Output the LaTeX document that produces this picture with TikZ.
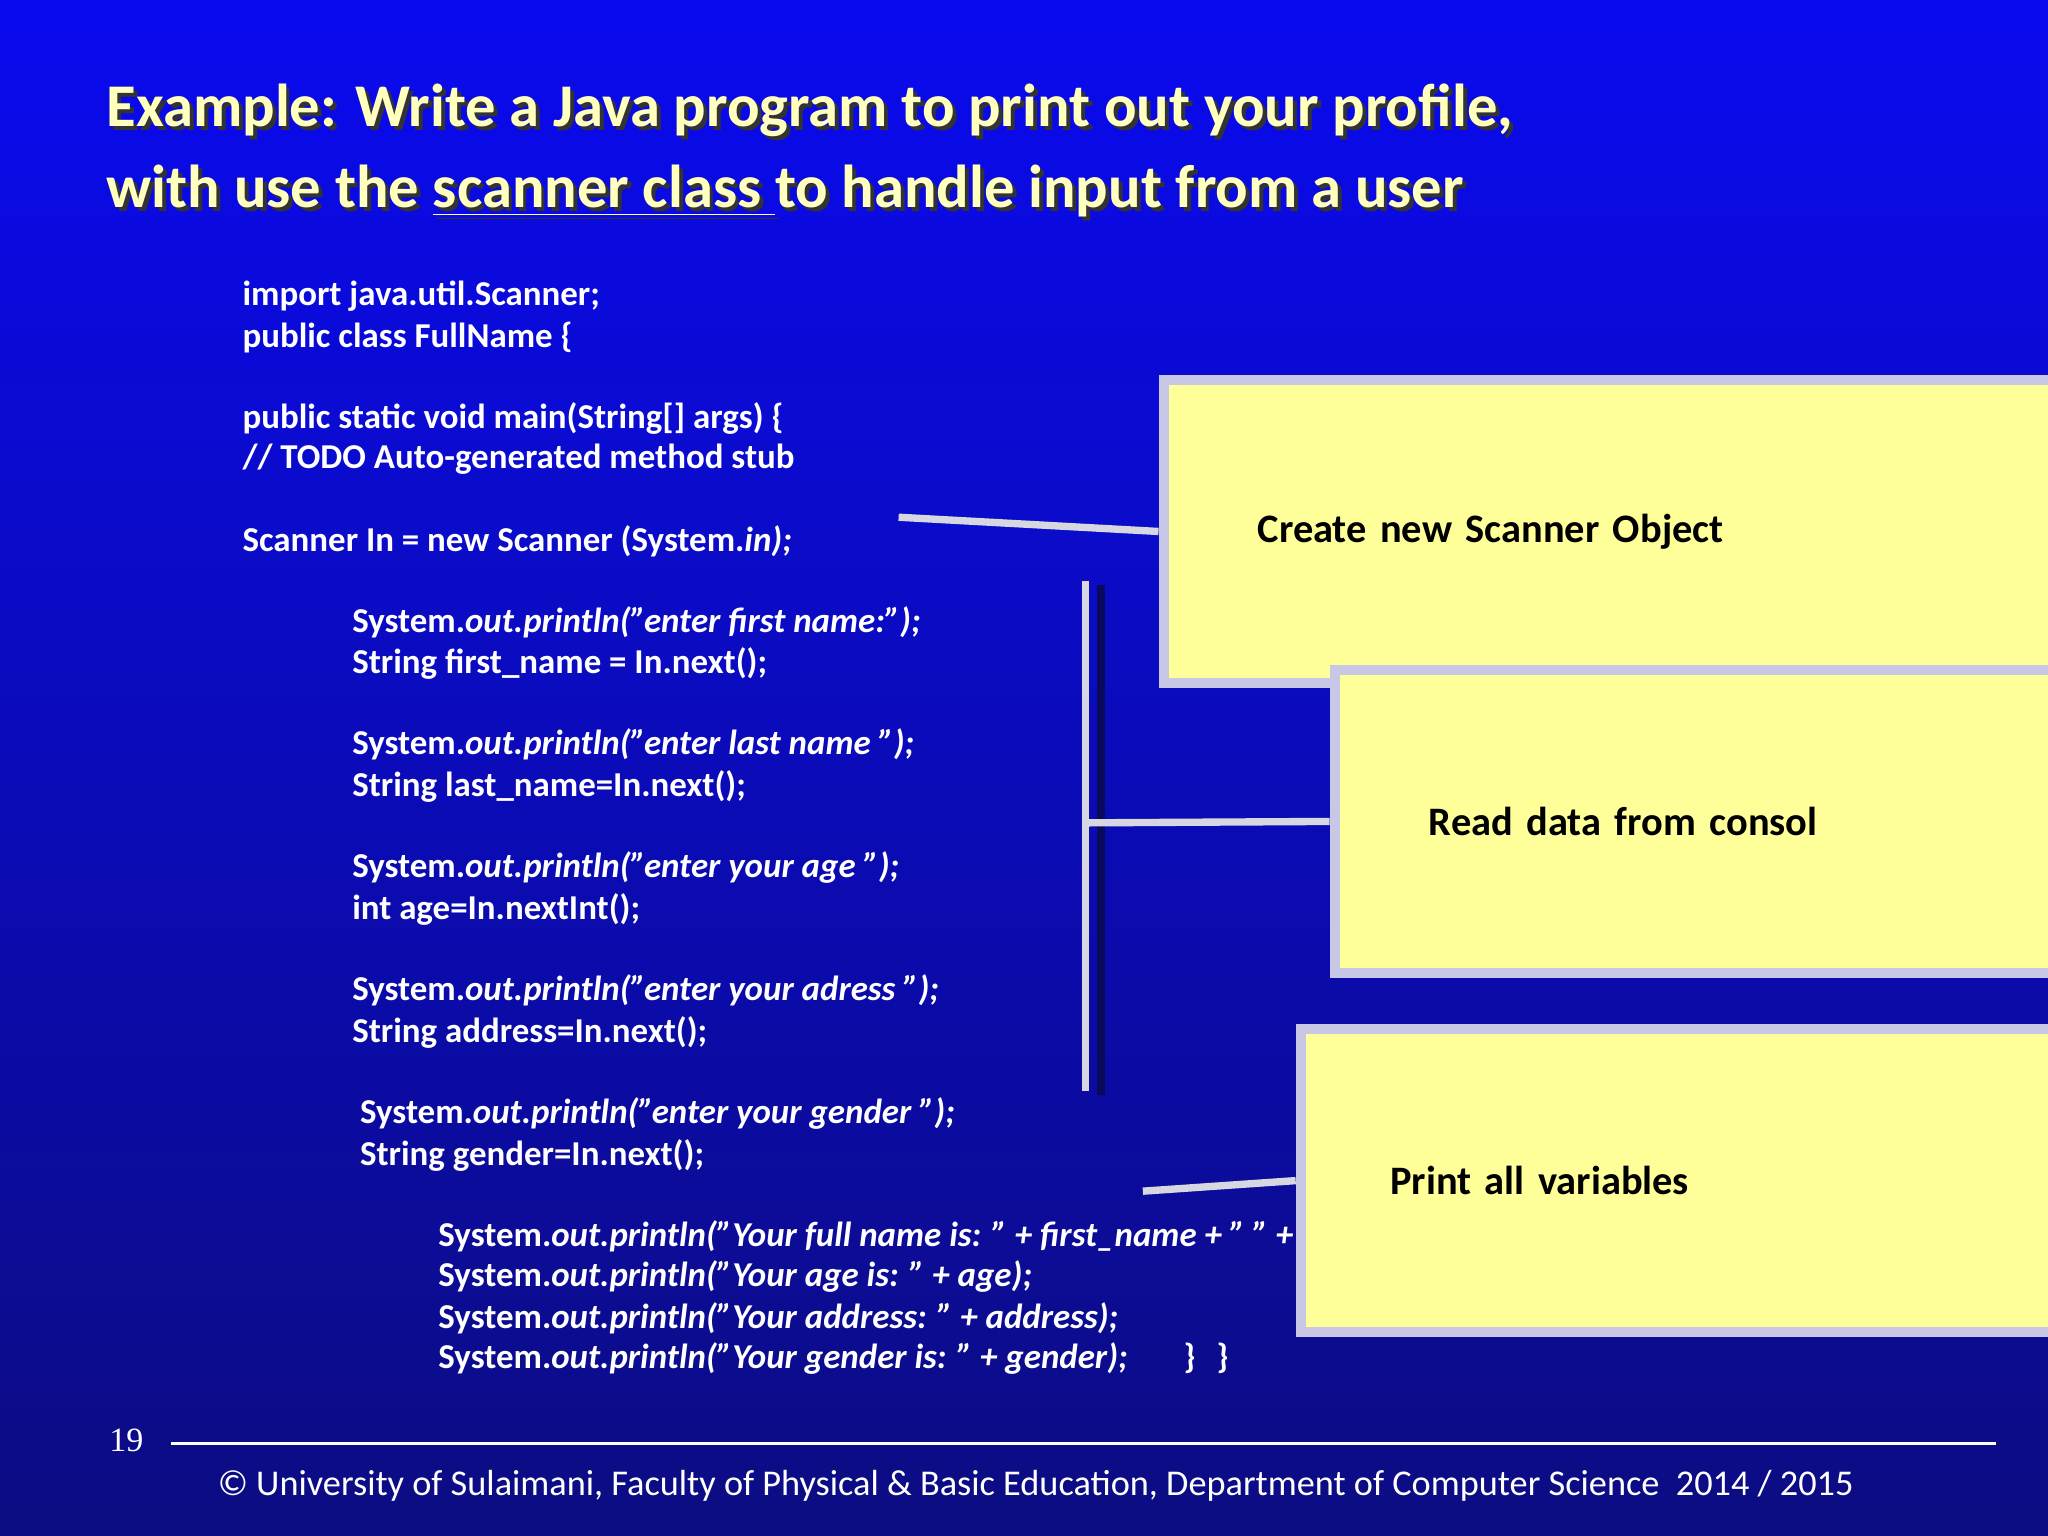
\documentclass[tikz,border=0pt]{standalone}
\usepackage{fontspec}
\setmainfont{Carlito}
\newfontfamily\timesf{Liberation Serif}
\definecolor{bgul}{RGB}{10,10,240}
\definecolor{bglr}{RGB}{12,12,130}
\definecolor{ttl}{RGB}{255,255,190}
\definecolor{cbord}{RGB}{200,200,230}
\definecolor{cfill}{RGB}{255,255,153}
\definecolor{lgrey}{RGB}{215,215,225}
\definecolor{dshad}{RGB}{10,10,90}
\begin{document}
\begin{tikzpicture}[x=0.01cm,y=-0.01cm,
  code/.style={anchor=base west,inner sep=0,text=white,font=\fontsize{7.6}{9}\selectfont\bfseries},
  title/.style={anchor=base west,inner sep=0,text=ttl,font=\fontsize{13.2}{15}\selectfont\bfseries},
  shadowt/.style={anchor=base west,inner sep=0,text=black!80,font=\fontsize{13.2}{15}\selectfont\bfseries},
  callout/.style={draw=cbord,line width=2.2pt,fill=cfill,anchor=north west,inner sep=0,font=\fontsize{8.8}{10}\selectfont\bfseries,text=black,align=left},
  conn/.style={draw=lgrey,line width=1.6pt}]
\useasboundingbox (0,0) rectangle (1568,1176);
\shade[top color=bgul,bottom color=bglr] (0,0) rectangle (1568,1176);
% title
\node[shadowt] at (84,100) {Example: Write a Java program to print out your profile,};
\node[shadowt] at (84,162) {with use the \underline{scanner class }to handle input from a user};
\node[title] (t1) at (81,97) {Example: Write a Java program to print out your profile,};
\node[title] (t2) at (81,159) {with use the \underline{scanner class }to handle input from a user};
% code
\node[code] (c1) at (185,234) {import java.util.Scanner;};
\node[code] (c2) at (185,266) {public class FullName \{};
\node[code] (c3) at (185,328) {public static void main(String[] args) \{};
\node[code] (c4) at (185,359) {// TODO Auto-generated method stub};
\node[code] (c5) at (185,422) {Scanner In = new Scanner (System.\textit{in);}};
\node[code] (c6) at (269,484) {System.\textit{out.println("enter first name:");}};
\node[code] (c7) at (269,516) {String first\_name = In.next();};
\node[code] (c8) at (269,578) {System.\textit{out.println("enter last name ");}};
\node[code] (c9) at (269,610) {String last\_name=In.next();};
\node[code] (c10) at (269,672) {System.\textit{out.println("enter your age ");}};
\node[code] (c11) at (269,704) {int age=In.nextInt();};
\node[code] (c12) at (269,766) {System.\textit{out.println("enter your adress ");}};
\node[code] (c13) at (269,798) {String address=In.next();};
\node[code] (c14) at (275,860) {System.\textit{out.println("enter your gender ");}};
\node[code] (c15) at (275,892) {String gender=In.next();};
\node[code] (c16) at (335,954) {System.\textit{out.println("Your full name is: " + first\_name + " " + last\_name);}};
\node[code] (c17) at (335,985) {System.\textit{out.println("Your age is: " + age);}};
\node[code] (c18) at (335,1017) {System.\textit{out.println("Your address: " + address);}};
\node[code] (c19) at (335,1048) {System.\textit{out.println("Your gender is: " + gender);}\hspace{1.6em}\}\hspace{0.6em}\}};
% callouts
\node[callout,minimum width=511,minimum height=66,text width=470,inner xsep=17] (b1) at (887,287) {Create new Scanner Object};
\node[callout,minimum width=446,minimum height=66,text width=405,inner xsep=17] (b2) at (1018,509) {Read data from consol};
\node[callout,minimum width=419,minimum height=66,text width=380,inner xsep=17] (b3) at (992,784) {Print all variables};
% connectors
\coordinate (a1) at (688,396);
\draw[conn] (a1) -- (b1.west);
\coordinate (vt) at (831,445); \coordinate (vb) at (831,835); \coordinate (vm) at (831,630);
\draw[line width=1.6pt,dshad] (843,448) -- (843,838);
\draw[conn] (vt) -- (vb);
\draw[conn] (vm) -- (b2.west);
\coordinate (a3) at (875,912);
\draw[conn] (a3) -- (b3.west);
% footer
\node[anchor=base west,inner sep=0,text=white,font=\timesf\fontsize{7.4}{9}\selectfont] (pg) at (83,1111) {19};
\coordinate (l1) at (131,1105); \coordinate (l2) at (1528,1105);
\draw[white,line width=0.6pt] (l1) -- (l2);
\node[anchor=base,inner sep=0,text=white,font=\fontsize{7.9}{9}\selectfont] (ft) at (793,1145) {© University of Sulaimani, Faculty of Physical \& Basic Education, Department of Computer Science\ \ 2014 / 2015};
\end{tikzpicture}
\end{document}
